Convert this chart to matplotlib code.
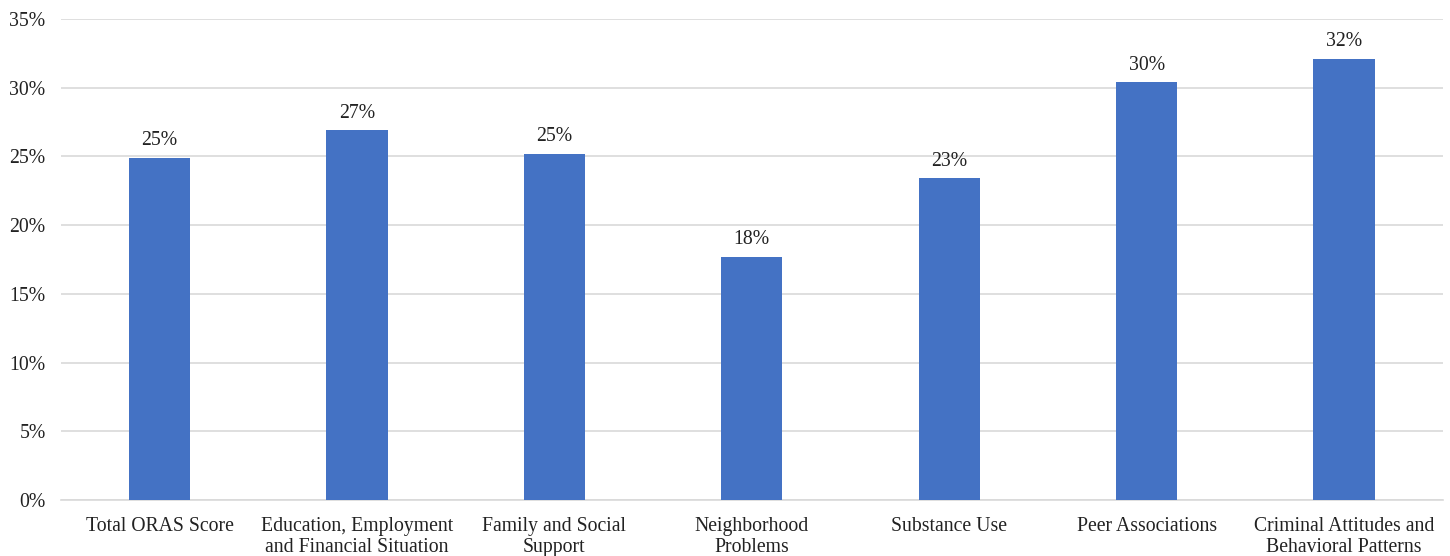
import matplotlib.pyplot as plt
import numpy as np
from matplotlib.ticker import FuncFormatter

plt.rcParams['font.family'] = ['Liberation Serif', 'DejaVu Serif']

categories = ["Total ORAS Score", "Education, Employment\nand Financial Situation",
              "Family and Social\nSupport", "Neighborhood\nProblems", "Substance Use",
              "Peer Associations", "Criminal Attitudes and\nBehavioral Patterns"]
values = [24.9, 26.9, 25.2, 17.7, 23.4, 30.4, 32.1]
labels = ["25%", "27%", "25%", "18%", "23%", "30%", "32%"]

fig = plt.figure(figsize=(14.5, 5.56), dpi=100)
ax = fig.add_axes([0.042, 0.1007, 0.953, 0.8653])

x = np.arange(len(categories))
bars = ax.bar(x, values, width=0.31, color='#4472C4', zorder=3)
for b, lab in zip(bars, labels):
    ax.text(b.get_x() + b.get_width() / 2, b.get_height() + 0.55, lab,
            ha='center', va='bottom', fontsize=14.2, color='#222222')

ax.set_xlim(-0.5, len(categories) - 0.5)
ax.set_ylim(0, 35)
ax.set_yticks(np.arange(0, 36, 5))
ax.yaxis.set_major_formatter(FuncFormatter(lambda v, p: f"{int(v)}%"))
ax.grid(axis='y', color='#d9d9d9', linewidth=1.2, zorder=0)
ax.set_xticks(x)
ax.set_xticklabels(categories, fontsize=14.2, linespacing=1.2)
ax.tick_params(axis='both', length=0, labelsize=14.2, colors='#222222')
ax.tick_params(axis='x', pad=12)
ax.tick_params(axis='y', pad=11)
for s in ['top', 'right', 'left']:
    ax.spines[s].set_visible(False)
ax.spines['bottom'].set_color('#d9d9d9')
ax.spines['bottom'].set_linewidth(1.2)

fig.savefig('out.png', dpi=100)
